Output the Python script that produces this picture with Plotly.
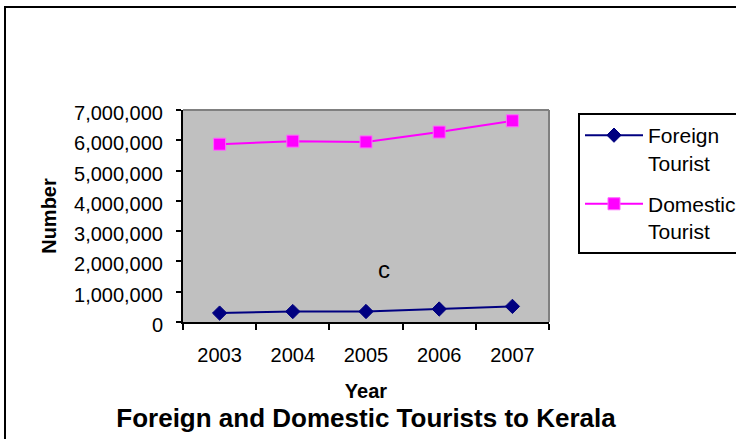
import plotly.graph_objects as go

# Tourist arrivals in Kerala by year
years = ["2003", "2004", "2005", "2006", "2007"]
foreign_tourists = [294621, 345546, 346499, 428534, 515808]
domestic_tourists = [5871228, 5972182, 5946423, 6271724, 6642941]
y_ticks = [0, 1000000, 2000000, 3000000, 4000000, 5000000, 6000000, 7000000]

W, H = 736, 439
L, R, T, B = 183, 187, 110, 117
PW, PH = W - L - R, H - T - B

FONT = "Liberation Sans, Arial, sans-serif"


def px_x(p):
    return (p - L) / PW


def px_y(p):
    return (H - B - p) / PH


fig = go.Figure()
fig.add_trace(go.Scatter(
    x=years, y=foreign_tourists, mode="lines+markers",
    name="Foreign<br>Tourist", legendgroup="f",
    line=dict(color="#000080", width=2),
    marker=dict(symbol="diamond", size=11, color="#000080",
                line=dict(color="#000080", width=1)),
))
fig.add_trace(go.Scatter(
    x=years, y=domestic_tourists, mode="lines+markers",
    name="Domestic<br>Tourist", legendgroup="d",
    line=dict(color="#FF00FF", width=2),
    marker=dict(symbol="square", size=12, color="#FF00FF",
                line=dict(color="#FF66FF", width=1)),
))

fig.update_layout(
    width=W, height=H,
    margin=dict(l=L, r=R, t=T, b=B, autoexpand=False),
    paper_bgcolor="white",
    plot_bgcolor="#C0C0C0",
    font=dict(family=FONT, size=20, color="black"),
    title=dict(text="<b>Foreign and Domestic Tourists to Kerala</b>",
               x=366 / W, xanchor="center", y=1 - 418 / H, yanchor="middle",
               font=dict(size=26, family=FONT, color="black")),
    xaxis=dict(
        type="category", range=[-0.5, 4.5],
        showline=True, linecolor="black", linewidth=2,
        ticks="outside", tickson="boundaries", ticklen=6, tickwidth=2,
        tickcolor="black", showgrid=False, zeroline=False,
        ticklabelstandoff=14,
        title=dict(text="<b>Year</b>", font=dict(size=20), standoff=19),
    ),
    yaxis=dict(
        range=[0, 7000000], tickvals=y_ticks, tickformat=",d",
        showline=True, linecolor="black", linewidth=2,
        ticks="outside", ticklen=5, tickwidth=2, tickcolor="black",
        showgrid=False, zeroline=False,
        ticklabelstandoff=9, ticklabelshift=3,
        title=dict(text="<b>Number</b>", font=dict(size=20), standoff=12),
    ),
    legend=dict(
        x=px_x(578), xanchor="left", y=px_y(113), yanchor="top",
        bordercolor="black", borderwidth=2, bgcolor="white",
        font=dict(size=21, family=FONT), valign="top",
        traceorder="grouped", tracegroupgap=11, itemwidth=58,
    ),
    shapes=[
        # grey frame on the top and right of the plot area
        dict(type="line", xref="paper", yref="paper", x0=0, x1=1, y0=1, y1=1,
             line=dict(color="#808080", width=2)),
        dict(type="line", xref="paper", yref="paper", x0=1, x1=1, y0=0, y1=1,
             line=dict(color="#808080", width=2)),
        # outer chart border
        dict(type="rect", xref="paper", yref="paper",
             x0=px_x(5), x1=px_x(760), y0=px_y(460), y1=px_y(7),
             line=dict(color="black", width=2), layer="below"),
    ],
    annotations=[
        dict(text="c", x=2.24, y=1740000, xref="x", yref="y",
             showarrow=False, font=dict(size=24, color="black")),
    ],
)

fig.write_html("out.html")
